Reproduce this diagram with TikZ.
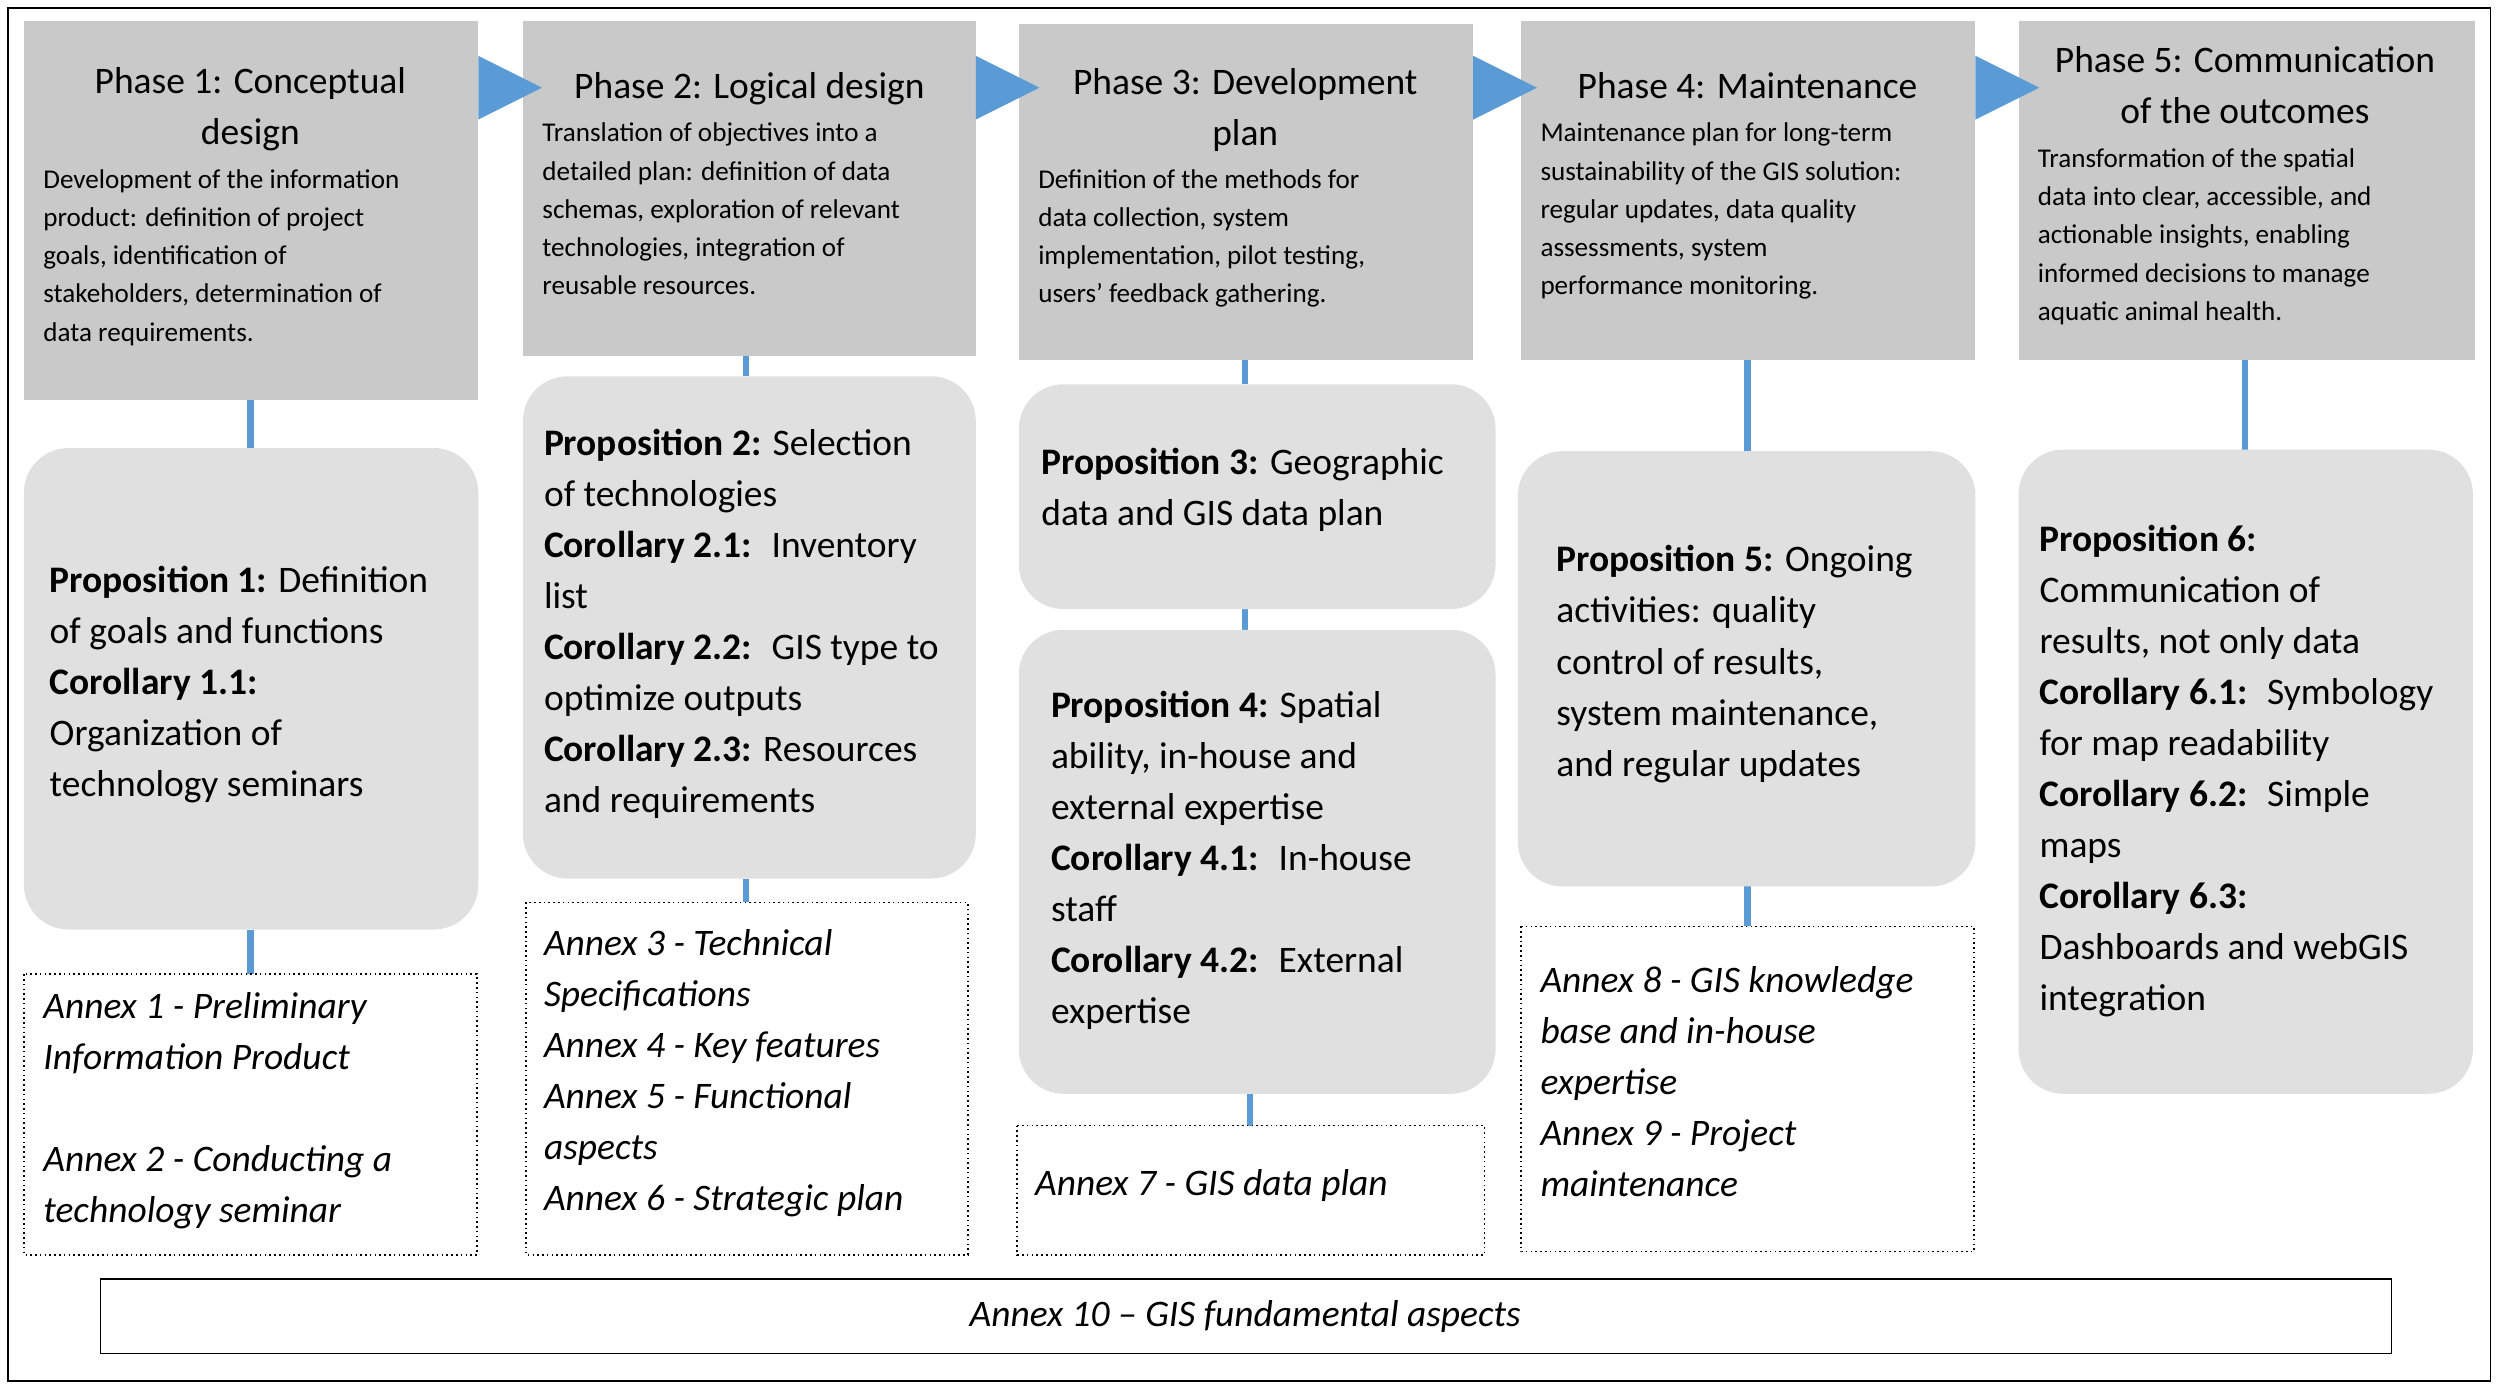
\documentclass[tikz,border=0pt]{standalone}
\usepackage{fontspec}
\setmainfont{Carlito}
\definecolor{phasegray}{HTML}{C9C9C9}
\definecolor{propgray}{HTML}{E0E0E0}
\definecolor{linkblue}{HTML}{5B9BD5}
\tikzset{
 phasebox/.style={fill=phasegray,draw=none},
 propbox/.style={fill=propgray,draw=none,rounded corners=28pt},
 annexbox/.style={draw=black,dotted,line width=1pt},
 link/.style={draw=linkblue,line width=4pt},
 hdr/.style={inner sep=0pt,align=center,font=\fontsize{23.5}{32}\selectfont},
 body/.style={inner sep=0pt,align=left,anchor=north west,font=\fontsize{17}{24}\selectfont},
 ptxt/.style={inner sep=0pt,align=left,anchor=north west,font=\fontsize{23.5}{32}\selectfont},
 atxt/.style={inner sep=0pt,align=left,anchor=north west,font=\fontsize{23.5}{32}\selectfont\itshape},
 tri/.style={fill=linkblue,draw=none}
}
\begin{document}
\begin{tikzpicture}[x=1pt,y=-1pt]
\useasboundingbox (0,0) rectangle (1568,871);
\draw[line width=1.2pt] (5,5) rectangle (1562,866);
% links
\draw[link] (157,251) -- (157,281); \draw[link] (157,583) -- (157,611);
\draw[link] (468,223) -- (468,236); \draw[link] (468,551) -- (468,566);
\draw[link] (781,226) -- (781,241); \draw[link] (781,382) -- (781,395); \draw[link] (784,686) -- (784,706);
\draw[link] (1096,226) -- (1096,283); \draw[link] (1096,556) -- (1096,581);
\draw[link] (1408,226) -- (1408,282);
% phase boxes
\path[phasebox] (15,13) rectangle (300,251) coordinate (ph1);
\path[phasebox] (328,13) rectangle (612,223) coordinate (ph2);
\path[phasebox] (639,15) rectangle (924,226) coordinate (ph3);
\path[phasebox] (954,13) rectangle (1239,226) coordinate (ph4);
\path[phasebox] (1266,13) rectangle (1552,226) coordinate (ph5);
% arrows
\path[tri] (300,35) -- (340,55) -- (300,75) -- cycle;
\path[tri] (612,35) -- (652,55) -- (612,75) -- cycle;
\path[tri] (924,35) -- (964,55) -- (924,75) -- cycle;
\path[tri] (1239,35) -- (1279,55) -- (1239,75) -- cycle;
% prop boxes
\path[propbox] (15,281) rectangle (300,583);
\path[propbox] (328,236) rectangle (612,551);
\path[propbox] (639,241) rectangle (938,382);
\path[propbox] (639,395) rectangle (938,686);
\path[propbox] (952,283) rectangle (1239,556);
\path[propbox] (1266,282) rectangle (1551,686);
% annex boxes
\draw[annexbox] (15,611) rectangle (299,787);
\draw[annexbox] (330,566) rectangle (607,787);
\draw[annexbox] (638,706) rectangle (931,787);
\draw[annexbox] (954,581) rectangle (1238,785);
\draw[line width=1pt] (63,802) rectangle (1500,849);
% headers
\node[hdr,anchor=north] (h1) at (157,42) {Phase 1: Conceptual\\design};
\node[hdr,anchor=north] (h2) at (470,45) {Phase 2: Logical design};
\node[hdr,anchor=north] (h3) at (781,43) {Phase 3: Development\\plan};
\node[hdr,anchor=north] (h4) at (1096,45) {Phase 4: Maintenance};
\node[hdr,anchor=north] (h5) at (1408,29) {Phase 5: Communication\\of the outcomes};
% bodies
\node[body] (b1) at (27,106) {Development of the information\\product: definition of project\\goals, identification of\\stakeholders, determination of\\data requirements.};
\node[body] (b2) at (340,77) {Translation of objectives into a\\detailed plan: definition of data\\schemas, exploration of relevant\\technologies, integration of\\reusable resources.};
\node[body] (b3) at (651,106) {Definition of the methods for\\data collection, system\\implementation, pilot testing,\\users’ feedback gathering.};
\node[body] (b4) at (966,77) {Maintenance plan for long-term\\sustainability of the GIS solution:\\regular updates, data quality\\assessments, system\\performance monitoring.};
\node[body] (b5) at (1278,93) {Transformation of the spatial\\data into clear, accessible, and\\actionable insights, enabling\\informed decisions to manage\\aquatic animal health.};
% propositions
\node[ptxt] (p1) at (31,355) {\textbf{Proposition 1:} Definition\\of goals and functions\\\textbf{Corollary 1.1:}\\Organization of\\technology seminars};
\node[ptxt] (p2) at (341,269) {\textbf{Proposition 2:} Selection\\of technologies\\\textbf{Corollary 2.1:}~ Inventory\\list\\\textbf{Corollary 2.2:}~ GIS type to\\optimize outputs\\\textbf{Corollary 2.3:} Resources\\and requirements};
\node[ptxt] (p3) at (653,281) {\textbf{Proposition 3:} Geographic\\data and GIS data plan};
\node[ptxt] (p4) at (659,433) {\textbf{Proposition 4:} Spatial\\ability, in-house and\\external expertise\\\textbf{Corollary 4.1:}~ In-house\\staff\\\textbf{Corollary 4.2:}~ External\\expertise};
\node[ptxt] (p5) at (976,342) {\textbf{Proposition 5:} Ongoing\\activities: quality\\control of results,\\system maintenance,\\and regular updates};
\node[ptxt] (p6) at (1279,329) {\textbf{Proposition 6:}\\Communication of\\results, not only data\\\textbf{Corollary 6.1:}~ Symbology\\for map readability\\\textbf{Corollary 6.2:}~ Simple\\maps\\\textbf{Corollary 6.3:}\\Dashboards and webGIS\\integration};
% annexes
\node[atxt] (a1) at (27,622) {Annex 1 - Preliminary\\Information Product\\[32pt]Annex 2 - Conducting a\\technology seminar};
\node[atxt] (a2) at (341,583) {Annex 3 - Technical\\Specifications\\Annex 4 - Key features\\Annex 5 - Functional\\aspects\\Annex 6 - Strategic plan};
\node[atxt] (a3) at (649,733) {Annex 7 - GIS data plan};
\node[atxt] (a4) at (966,606) {Annex 8 - GIS knowledge\\base and in-house\\expertise\\Annex 9 - Project\\maintenance};
\node[hdr,font=\fontsize{23.5}{32}\selectfont\itshape] (a10) at (781,826) {Annex 10 – GIS fundamental aspects};
\end{tikzpicture}
\end{document}
